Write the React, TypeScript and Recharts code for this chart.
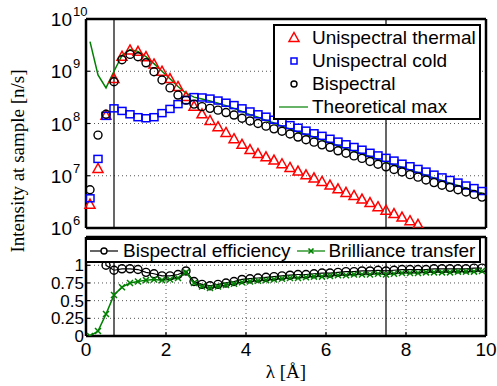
import React from "react";
import {
  LineChart,
  Line,
  XAxis,
  YAxis,
  CartesianGrid,
  ReferenceLine,
  Legend,
} from "recharts";

// wavelength [Å]
const lambda = [
  0.1, 0.3, 0.5, 0.7, 0.9, 1.1, 1.3, 1.5, 1.7, 1.9,
  2.1, 2.3, 2.5, 2.7, 2.9, 3.1, 3.3, 3.5, 3.7, 3.9,
  4.1, 4.3, 4.5, 4.7, 4.9, 5.1, 5.3, 5.5, 5.7, 5.9,
  6.1, 6.3, 6.5, 6.7, 6.9, 7.1, 7.3, 7.5, 7.7, 7.9,
  8.1, 8.3, 8.5, 8.7, 8.9, 9.1, 9.3, 9.5, 9.7, 9.9,
];

// intensity at sample [n/s]
const thermal = [
  2.8e6, 1.35e7, 1.4e8, 7.1e8, 1.9e9, 2.5e9, 2.35e9, 1.86e9, 1.35e9, 9.8e8,
  7.1e8, 5.0e8, 3.2e8, 2.1e8, 1.5e8, 1.12e8, 8.5e7, 6.6e7, 5.0e7, 3.9e7,
  3.1e7, 2.6e7, 2.25e7, 1.95e7, 1.66e7, 1.41e7, 1.2e7, 1.02e7, 8.9e6, 7.6e6,
  6.5e6, 5.5e6, 4.7e6, 4.1e6, 3.5e6, 3.0e6, 2.5e6, 2.15e6, 1.85e6, 1.58e6,
  1.35e6, 1.15e6, null, null, null, null, null, null, null, null,
];
const cold = [
  3.7e6, 2.1e7, 1.4e8, 1.95e8, 1.74e8, 1.5e8, 1.32e8, 1.26e8, 1.32e8, 1.58e8,
  1.9e8, 2.35e8, 2.8e8, 3.2e8, 3.15e8, 3.0e8, 2.75e8, 2.5e8, 2.25e8, 1.95e8,
  1.7e8, 1.5e8, 1.35e8, 1.18e8, 1.05e8, 9.3e7, 8.3e7, 7.3e7, 6.5e7, 5.8e7,
  5.1e7, 4.5e7, 4.0e7, 3.55e7, 3.15e7, 2.75e7, 2.45e7, 2.2e7, 1.95e7, 1.7e7,
  1.52e7, 1.35e7, 1.2e7, 1.05e7, 9.3e6, 8.3e6, 7.4e6, 6.5e6, 5.8e6, 5.1e6,
];
const bispectral = [
  5.4e6, 6.0e7, 1.5e8, 6.3e8, 1.66e9, 2.1e9, 1.9e9, 1.45e9, 9.8e8, 6.8e8,
  4.8e8, 3.5e8, 2.8e8, 2.35e8, 2.1e8, 1.95e8, 1.8e8, 1.62e8, 1.45e8, 1.26e8,
  1.12e8, 1.0e8, 8.9e7, 7.9e7, 7.1e7, 6.3e7, 5.5e7, 4.9e7, 4.4e7, 3.9e7,
  3.5e7, 3.0e7, 2.7e7, 2.4e7, 2.15e7, 1.87e7, 1.66e7, 1.48e7, 1.32e7, 1.18e7,
  1.05e7, 9.4e6, 8.3e6, 7.4e6, 6.6e6, 6.0e6, 5.4e6, 4.9e6, 4.4e6, 3.9e6,
];
const theoreticalMax = [
  3.7e9, 8.5e8, 4.8e8, 1.0e9, 2.0e9, 2.6e9, 2.4e9, 1.9e9, 1.4e9, 1.0e9,
  7.2e8, 5.1e8, 3.8e8, 3.2e8, 2.95e8, 2.7e8, 2.45e8, 2.2e8, 1.95e8, 1.7e8,
  1.48e8, 1.32e8, 1.15e8, 1.02e8, 8.9e7, 7.9e7, 6.9e7, 6.2e7, 5.5e7, 4.8e7,
  4.3e7, 3.8e7, 3.3e7, 2.95e7, 2.6e7, 2.35e7, 2.05e7, 1.8e7, 1.62e7, 1.45e7,
  1.29e7, 1.15e7, 1.02e7, 9.1e6, 8.1e6, 7.2e6, 6.5e6, 5.8e6, 5.1e6, 4.6e6,
];

// ratios (lower panel)
const efficiency = [
  1.45, 2.9, 1.0, 0.93, 0.95, 0.95, 0.94, 0.9, 0.88, 0.85,
  0.85, 0.87, 0.92, 0.77, 0.73, 0.71, 0.73, 0.75, 0.77, 0.8,
  0.81, 0.82, 0.83, 0.84, 0.85, 0.86, 0.87, 0.87, 0.88, 0.89,
  0.89, 0.9, 0.91, 0.91, 0.92, 0.92, 0.93, 0.92, 0.93, 0.94,
  0.94, 0.94, 0.94, 0.95, 0.95, 0.95, 0.95, 0.95, 0.96, 0.96,
];
const brilliance = [
  0.0, 0.07, 0.31, 0.58, 0.69, 0.75, 0.77, 0.79, 0.8, 0.79,
  0.8, 0.82, 0.9, 0.75, 0.7, 0.68, 0.7, 0.72, 0.74, 0.76,
  0.77, 0.78, 0.79, 0.8, 0.81, 0.82, 0.82, 0.83, 0.84, 0.84,
  0.85, 0.86, 0.86, 0.87, 0.87, 0.87, 0.88, 0.87, 0.88, 0.89,
  0.89, 0.89, 0.9, 0.9, 0.9, 0.9, 0.91, 0.91, 0.91, 0.92,
];

const xTicks = [0, 2, 4, 6, 8, 10];
const logTicks = [1e6, 1e7, 1e8, 1e9, 1e10];
const ratioTicks = [0, 0.25, 0.5, 0.75, 1];
const markLines = [0.7, 7.5];

const topData = lambda.map((l, i) => ({
  lambda: l,
  thermal: thermal[i],
  cold: cold[i],
  bispectral: bispectral[i],
  theory: theoreticalMax[i],
}));
const bottomData = lambda.map((l, i) => ({
  lambda: l,
  efficiency: efficiency[i],
  brilliance: brilliance[i],
}));

const SANS = "'Liberation Sans', Arial, Helvetica, sans-serif";
const SERIF = "'Liberation Serif', 'Times New Roman', serif";
const GREEN = "#008000";

const axisLine = { stroke: "#000", strokeWidth: 2.5 };
const tickLine = { stroke: "#000", strokeWidth: 1.2 };

// markers
const TriangleDot = (props: any) => {
  const { cx, cy, value } = props;
  if (cx == null || cy == null || value == null) return null;
  return (
    <path
      d={`M${cx},${cy - 5.5}L${cx + 5},${cy + 3.5}L${cx - 5},${cy + 3.5}Z`}
      fill="none"
      stroke="#ff0000"
      strokeWidth={1.5}
    />
  );
};
const SquareDot = (props: any) => {
  const { cx, cy, value } = props;
  if (cx == null || cy == null || value == null) return null;
  return (
    <rect x={cx - 4} y={cy - 3.5} width={8} height={7} fill="none" stroke="#0000ff" strokeWidth={1.5} />
  );
};
const CircleDot = (props: any) => {
  const { cx, cy, value } = props;
  if (cx == null || cy == null || value == null) return null;
  return <circle cx={cx} cy={cy} r={4} fill="none" stroke="#000" strokeWidth={1.4} />;
};
const CrossDot = (props: any) => {
  const { cx, cy, value } = props;
  if (cx == null || cy == null || value == null) return null;
  return (
    <path
      d={`M${cx - 3},${cy - 3}L${cx + 3},${cy + 3}M${cx - 3},${cy + 3}L${cx + 3},${cy - 3}`}
      stroke={GREEN}
      strokeWidth={1.5}
    />
  );
};

const PowerTick = (props: any) => {
  const { x, y, payload } = props;
  const exp = Math.round(Math.log10(payload.value));
  return (
    <g fontFamily={SANS} fill="#000">
      <text x={x} y={y + 7} textAnchor="end" fontSize={19}>
        10
      </text>
      <text x={x + 1} y={y - 3} textAnchor="start" fontSize={13}>
        {exp}
      </text>
    </g>
  );
};

type LegendItem = { label: string; icon: "triangle" | "square" | "circle" | "line" | "lineCircle" | "lineCross" };

const topLegend: LegendItem[] = [
  { label: "Unispectral thermal", icon: "triangle" },
  { label: "Unispectral cold", icon: "square" },
  { label: "Bispectral", icon: "circle" },
  { label: "Theoretical max", icon: "line" },
];
const bottomLegend: LegendItem[] = [
  { label: "Bispectral efficiency", icon: "lineCircle" },
  { label: "Brilliance transfer", icon: "lineCross" },
];

const LegendIcon = ({ icon }: { icon: LegendItem["icon"] }) => (
  <svg width={29} height={20} style={{ display: "block", flex: "none" }}>
    {icon === "triangle" && <TriangleDot cx={15} cy={10} value={1} />}
    {icon === "square" && (
      <rect x={12} y={7} width={6} height={6} fill="none" stroke="#0000ff" strokeWidth={1.5} />
    )}
    {icon === "circle" && <circle cx={15} cy={10} r={3} fill="none" stroke="#000" strokeWidth={1.4} />}
    {icon === "line" && <line x1={0} x2={29} y1={10} y2={10} stroke={GREEN} strokeWidth={1.2} />}
    {icon === "lineCircle" && (
      <>
        <line x1={0} x2={28} y1={10} y2={10} stroke="#000" strokeWidth={1.2} />
        <circle cx={14} cy={10} r={3} fill="#fff" stroke="#000" strokeWidth={1.4} />
      </>
    )}
    {icon === "lineCross" && (
      <>
        <line x1={0} x2={28} y1={10} y2={10} stroke={GREEN} strokeWidth={1.2} />
        <path d="M11.5,7.5L16.5,12.5M11.5,12.5L16.5,7.5" stroke={GREEN} strokeWidth={1.6} />
      </>
    )}
  </svg>
);

const TopLegendContent = () => (
  <div
    style={{
      border: "2px solid #000",
      background: "#fff",
      padding: "0 0 0 4px",
      fontFamily: SANS,
      fontSize: 19,
      color: "#000",
      boxSizing: "border-box",
      width: 208,
    }}
  >
    {topLegend.map((it) => (
      <div key={it.label} style={{ display: "flex", alignItems: "center", height: 23, whiteSpace: "nowrap" }}>
        <LegendIcon icon={it.icon} />
        <span style={{ marginLeft: 4 }}>{it.label}</span>
      </div>
    ))}
  </div>
);

const BottomLegendContent = () => (
  <div
    style={{
      border: "2px solid #000",
      background: "#fff",
      padding: "0 0 0 3px",
      fontFamily: SANS,
      fontSize: 19,
      color: "#000",
      boxSizing: "border-box",
      width: 396,
      height: 25,
      display: "flex",
      alignItems: "center",
      whiteSpace: "nowrap",
    }}
  >
    {bottomLegend.map((it, i) => (
      <div key={it.label} style={{ display: "flex", alignItems: "center", marginLeft: i === 0 ? 0 : 6 }}>
        <LegendIcon icon={it.icon} />
        <span style={{ marginLeft: i === 0 ? 4 : 3 }}>{it.label}</span>
      </div>
    ))}
  </div>
);

const App = () => {
  return (
    <div style={{ position: "absolute", left: 0, top: 0, width: 497, height: 386, background: "#fff" }}>
      {/* upper panel: intensity */}
      <div style={{ position: "absolute", left: 0, top: 0 }}>
        <LineChart width={497} height={240} data={topData} margin={{ top: 17, right: 0, bottom: 4, left: 0 }}>
          <CartesianGrid
            xAxisId="b"
            yAxisId="l"
            stroke="#555"
            strokeDasharray="1 3"
          />
          <XAxis
            xAxisId="b"
            dataKey="lambda"
            type="number"
            domain={[0, 10]}
            ticks={xTicks}
            interval={0}
            height={8}
            tick={false}
            tickSize={-4}
            axisLine={axisLine}
            tickLine={tickLine}
          />
          <XAxis
            xAxisId="t"
            orientation="top"
            dataKey="lambda"
            type="number"
            domain={[0, 10]}
            ticks={xTicks}
            interval={0}
            height={2}
            tick={false}
            tickSize={-4}
            axisLine={axisLine}
            tickLine={tickLine}
          />
          <YAxis
            yAxisId="l"
            scale="log"
            domain={[1e6, 1e10]}
            ticks={logTicks}
            interval={0}
            allowDataOverflow
            width={86}
            tick={<PowerTick />}
            tickSize={-4}
            tickMargin={18}
            axisLine={axisLine}
            tickLine={tickLine}
          />
          <YAxis
            yAxisId="r"
            orientation="right"
            scale="log"
            domain={[1e6, 1e10]}
            ticks={logTicks}
            interval={0}
            allowDataOverflow
            width={11}
            tick={false}
            tickSize={-4}
            axisLine={axisLine}
            tickLine={tickLine}
          />
          {markLines.map((v) => (
            <ReferenceLine key={v} xAxisId="b" yAxisId="l" x={v} stroke="#000" strokeWidth={1.2} />
          ))}
          <Line
            xAxisId="b"
            yAxisId="l"
            dataKey="thermal"
            name="Unispectral thermal"
            stroke="none"
            dot={<TriangleDot />}
            activeDot={false}
            isAnimationActive={false}
          />
          <Line
            xAxisId="b"
            yAxisId="l"
            dataKey="cold"
            name="Unispectral cold"
            stroke="none"
            dot={<SquareDot />}
            activeDot={false}
            isAnimationActive={false}
          />
          <Line
            xAxisId="b"
            yAxisId="l"
            dataKey="bispectral"
            name="Bispectral"
            stroke="none"
            dot={<CircleDot />}
            activeDot={false}
            isAnimationActive={false}
          />
          <Line
            xAxisId="b"
            yAxisId="l"
            dataKey="theory"
            name="Theoretical max"
            type="linear"
            stroke={GREEN}
            strokeWidth={1.5}
            dot={false}
            activeDot={false}
            isAnimationActive={false}
          />
          <Legend
            layout="vertical"
            align="center"
            verticalAlign="middle"
            content={<TopLegendContent />}
            wrapperStyle={{ left: 273, top: 24, width: 208 }}
          />
        </LineChart>
      </div>

      {/* lower panel: efficiency */}
      <div style={{ position: "absolute", left: 0, top: 226 }}>
        <LineChart width={497} height={160} data={bottomData} margin={{ top: 9, right: 0, bottom: 0, left: 0 }}>
          <CartesianGrid xAxisId="b" yAxisId="l" stroke="#555" strokeDasharray="1 3" />
          <XAxis
            xAxisId="b"
            dataKey="lambda"
            type="number"
            domain={[0, 10]}
            ticks={xTicks}
            interval={0}
            height={50}
            tickSize={-4}
            tickMargin={11}
            tick={{ fill: "#000", fontSize: 19, fontFamily: SANS }}
            axisLine={axisLine}
            tickLine={tickLine}
            label={{
              value: "λ [Å]",
              position: "insideBottom",
              offset: 8,
              style: { fontFamily: SERIF, fontSize: 19, fill: "#000" },
            }}
          />
          <XAxis
            xAxisId="t"
            orientation="top"
            dataKey="lambda"
            type="number"
            domain={[0, 10]}
            ticks={xTicks}
            interval={0}
            height={2}
            tick={false}
            tickSize={-4}
            axisLine={axisLine}
            tickLine={tickLine}
          />
          <YAxis
            yAxisId="l"
            type="number"
            domain={[0, 1.4]}
            ticks={ratioTicks}
            interval={0}
            allowDataOverflow
            width={86}
            tickSize={-4}
            tickMargin={6}
            tick={{ fill: "#000", fontSize: 17, fontFamily: SANS }}
            axisLine={axisLine}
            tickLine={tickLine}
          />
          <YAxis
            yAxisId="r"
            orientation="right"
            type="number"
            domain={[0, 1.4]}
            ticks={ratioTicks}
            interval={0}
            allowDataOverflow
            width={11}
            tick={false}
            tickSize={-4}
            axisLine={axisLine}
            tickLine={tickLine}
          />
          {markLines.map((v) => (
            <ReferenceLine key={v} xAxisId="b" yAxisId="l" x={v} stroke="#000" strokeWidth={1.2} />
          ))}
          <Line
            xAxisId="b"
            yAxisId="l"
            dataKey="efficiency"
            name="Bispectral efficiency"
            type="linear"
            stroke="#000"
            strokeWidth={1.2}
            dot={<CircleDot />}
            activeDot={false}
            isAnimationActive={false}
          />
          <Line
            xAxisId="b"
            yAxisId="l"
            dataKey="brilliance"
            name="Brilliance transfer"
            type="linear"
            stroke={GREEN}
            strokeWidth={1.5}
            dot={<CrossDot />}
            activeDot={false}
            isAnimationActive={false}
          />
          <Legend
            layout="vertical"
            align="center"
            verticalAlign="middle"
            content={<BottomLegendContent />}
            wrapperStyle={{ left: 85, top: 12, width: 396 }}
          />
        </LineChart>
      </div>

      {/* shared y label */}
      <div
        style={{
          position: "absolute",
          left: 18,
          top: 161,
          transform: "translate(-50%, -50%) rotate(-90deg)",
          whiteSpace: "nowrap",
          fontFamily: SERIF,
          fontSize: 19,
          color: "#000",
        }}
      >
        Intensity at sample [n/s]
      </div>
    </div>
  );
};

export default App;
